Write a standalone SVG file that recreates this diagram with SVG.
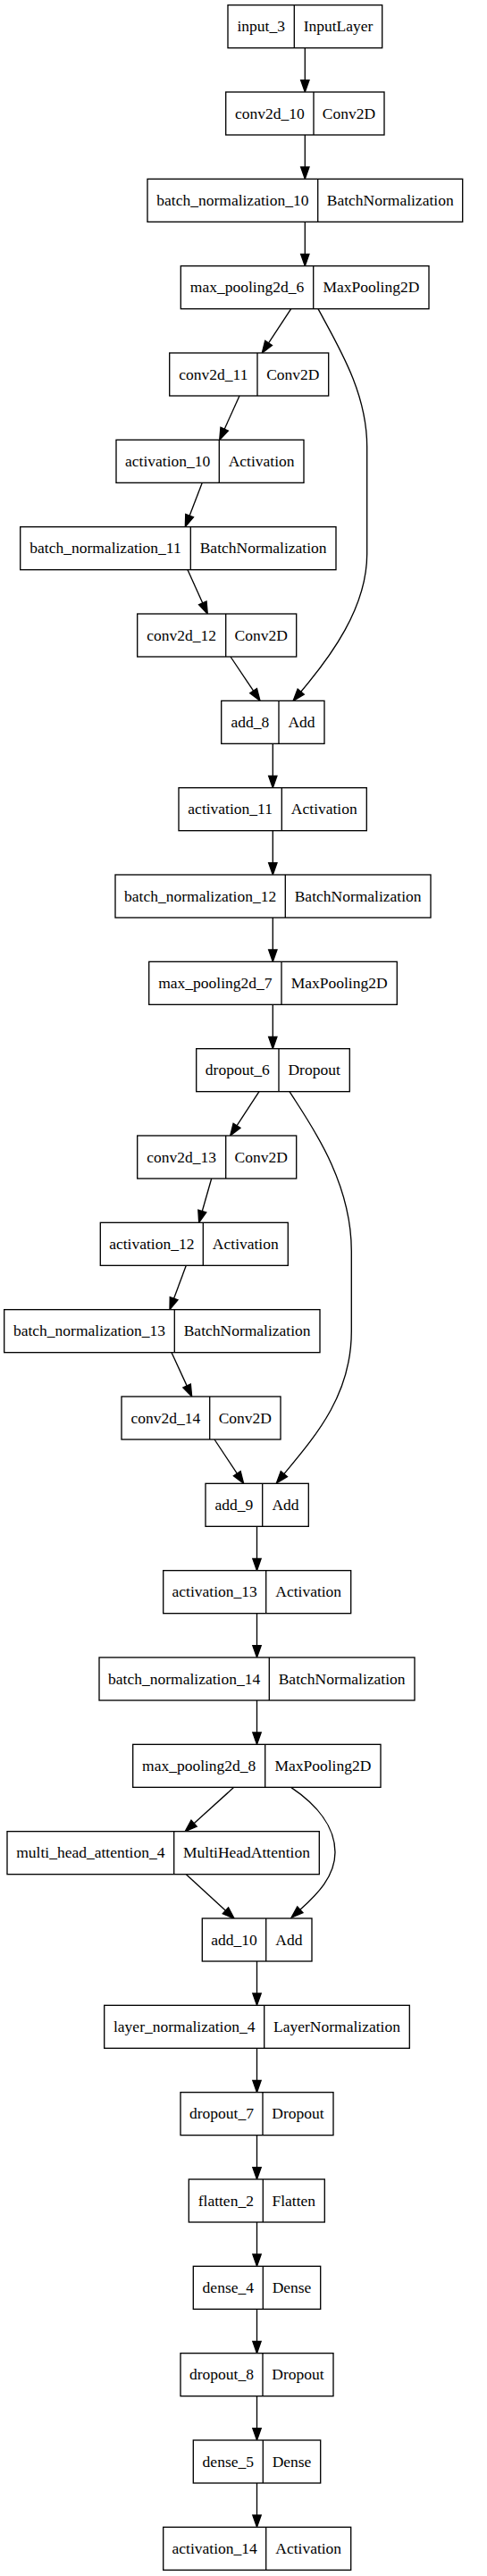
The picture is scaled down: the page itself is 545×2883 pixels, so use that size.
<svg xmlns="http://www.w3.org/2000/svg" width="545" height="2883" viewBox="0 0 545 2883">
<style>
.node rect { fill: #ffffff; stroke: #000000; stroke-width: 1.33; }
.node line { stroke: #000000; stroke-width: 1.33; }
text { font-family: "Liberation Serif", "Times New Roman", serif; font-size: 17.5px; text-anchor: middle; fill: #000000; }
.edge { fill: none; stroke: #000000; stroke-width: 1.33; marker-end: url(#arrow); }
</style>
<defs>
<marker id="arrow" markerUnits="userSpaceOnUse" markerWidth="16" markerHeight="12" refX="0" refY="4.67" orient="auto" overflow="visible">
<path d="M0,0 L13.33,4.67 L0,9.33 Z" fill="#000000" stroke="#000000" stroke-width="1.33"/>
</marker>
</defs>
<rect x="0" y="0" width="545" height="2883" fill="#ffffff"/>
<g id="connectors">
<path class="edge" d="M341.3,53.67 L341.3,89.67"/>
<path class="edge" d="M341.3,151 L341.3,187"/>
<path class="edge" d="M341.3,248.33 L341.3,284.33"/>
<path class="edge" d="M325.7,345.67 L300.6,383.9"/>
<path class="edge" d="M268,443 L251.2,480.2"/>
<path class="edge" d="M226.3,540.33 L212.1,577.2"/>
<path class="edge" d="M210,637.67 L226.8,674.9"/>
<path class="edge" d="M258,735 L283.6,773.2"/>
<path class="edge" d="M356,345.67 C380,390 410.7,440 410.7,500 L410.7,620 C410.7,680 370,735 336.7,774.2"/>
<path class="edge" d="M305.3,832.33 L305.3,868.33"/>
<path class="edge" d="M305.3,929.67 L305.3,965.67"/>
<path class="edge" d="M305.3,1027 L305.3,1063"/>
<path class="edge" d="M305.3,1124.33 L305.3,1160.33"/>
<path class="edge" d="M290,1221.67 L265,1259.8"/>
<path class="edge" d="M236.7,1319 L226.3,1355.5"/>
<path class="edge" d="M208.3,1416.33 L194.6,1453.2"/>
<path class="edge" d="M192,1513.67 L209.1,1550.9"/>
<path class="edge" d="M240,1611 L265.3,1649.2"/>
<path class="edge" d="M324,1221.67 C345,1255 393.3,1320 393.3,1400 L393.3,1490 C393.3,1560 355,1605 317.9,1649.6"/>
<path class="edge" d="M287.5,1708.33 L287.5,1744.33"/>
<path class="edge" d="M287.5,1805.67 L287.5,1841.67"/>
<path class="edge" d="M287.5,1903 L287.5,1939"/>
<path class="edge" d="M261.7,2000.33 L217.1,2040.7"/>
<path class="edge" d="M208.3,2097.67 L252.4,2138.3"/>
<path class="edge" d="M325.7,2000.33 C355,2020 375,2045 375,2073 C375,2100 355,2120 335.9,2137.3"/>
<path class="edge" d="M287.5,2195 L287.5,2231"/>
<path class="edge" d="M287.5,2292.33 L287.5,2328.33"/>
<path class="edge" d="M287.5,2389.67 L287.5,2425.67"/>
<path class="edge" d="M287.5,2487 L287.5,2523"/>
<path class="edge" d="M287.5,2584.33 L287.5,2620.33"/>
<path class="edge" d="M287.5,2681.67 L287.5,2717.67"/>
<path class="edge" d="M287.5,2779 L287.5,2815"/>
</g>
<g id="input_3" class="node"><rect x="255" y="5.67" width="172.7" height="48"/><line x1="329.3" y1="5.67" x2="329.3" y2="53.67"/><text x="292.15" y="35.27">input_3</text><text x="378.5" y="35.27">InputLayer</text></g>
<g id="conv2d_10" class="node"><rect x="252.7" y="103" width="177.3" height="48"/><line x1="351" y1="103" x2="351" y2="151"/><text x="301.85" y="132.6">conv2d_10</text><text x="390.5" y="132.6">Conv2D</text></g>
<g id="batch_normalization_10" class="node"><rect x="165" y="200.33" width="352.7" height="48"/><line x1="355.7" y1="200.33" x2="355.7" y2="248.33"/><text x="260.35" y="229.93">batch_normalization_10</text><text x="436.7" y="229.93">BatchNormalization</text></g>
<g id="max_pooling2d_6" class="node"><rect x="202.3" y="297.67" width="277.7" height="48"/><line x1="350.7" y1="297.67" x2="350.7" y2="345.67"/><text x="276.5" y="327.27">max_pooling2d_6</text><text x="415.35" y="327.27">MaxPooling2D</text></g>
<g id="conv2d_11" class="node"><rect x="189.7" y="395" width="178" height="48"/><line x1="288" y1="395" x2="288" y2="443"/><text x="238.85" y="424.6">conv2d_11</text><text x="327.85" y="424.6">Conv2D</text></g>
<g id="activation_10" class="node"><rect x="130" y="492.33" width="210" height="48"/><line x1="245.3" y1="492.33" x2="245.3" y2="540.33"/><text x="187.65" y="521.93">activation_10</text><text x="292.65" y="521.93">Activation</text></g>
<g id="batch_normalization_11" class="node"><rect x="22.7" y="589.67" width="353.3" height="48"/><line x1="213.3" y1="589.67" x2="213.3" y2="637.67"/><text x="118" y="619.27">batch_normalization_11</text><text x="294.65" y="619.27">BatchNormalization</text></g>
<g id="conv2d_12" class="node"><rect x="153.7" y="687" width="178" height="48"/><line x1="252.7" y1="687" x2="252.7" y2="735"/><text x="203.2" y="716.6">conv2d_12</text><text x="292.2" y="716.6">Conv2D</text></g>
<g id="add_8" class="node"><rect x="247.7" y="784.33" width="115.3" height="48"/><line x1="312" y1="784.33" x2="312" y2="832.33"/><text x="279.85" y="813.93">add_8</text><text x="337.5" y="813.93">Add</text></g>
<g id="activation_11" class="node"><rect x="200" y="881.67" width="210.3" height="48"/><line x1="315.3" y1="881.67" x2="315.3" y2="929.67"/><text x="257.65" y="911.27">activation_11</text><text x="362.8" y="911.27">Activation</text></g>
<g id="batch_normalization_12" class="node"><rect x="129" y="979" width="353" height="48"/><line x1="319.3" y1="979" x2="319.3" y2="1027"/><text x="224.15" y="1008.6">batch_normalization_12</text><text x="400.65" y="1008.6">BatchNormalization</text></g>
<g id="max_pooling2d_7" class="node"><rect x="166.7" y="1076.33" width="277.6" height="48"/><line x1="315" y1="1076.33" x2="315" y2="1124.33"/><text x="240.85" y="1105.93">max_pooling2d_7</text><text x="379.65" y="1105.93">MaxPooling2D</text></g>
<g id="dropout_6" class="node"><rect x="219.7" y="1173.67" width="171.6" height="48"/><line x1="312" y1="1173.67" x2="312" y2="1221.67"/><text x="265.85" y="1203.27">dropout_6</text><text x="351.65" y="1203.27">Dropout</text></g>
<g id="conv2d_13" class="node"><rect x="153.7" y="1271" width="178" height="48"/><line x1="252.7" y1="1271" x2="252.7" y2="1319"/><text x="203.2" y="1300.6">conv2d_13</text><text x="292.2" y="1300.6">Conv2D</text></g>
<g id="activation_12" class="node"><rect x="112.3" y="1368.33" width="210" height="48"/><line x1="227.3" y1="1368.33" x2="227.3" y2="1416.33"/><text x="169.8" y="1397.93">activation_12</text><text x="274.8" y="1397.93">Activation</text></g>
<g id="batch_normalization_13" class="node"><rect x="4.7" y="1465.67" width="353.3" height="48"/><line x1="195.3" y1="1465.67" x2="195.3" y2="1513.67"/><text x="100" y="1495.27">batch_normalization_13</text><text x="276.65" y="1495.27">BatchNormalization</text></g>
<g id="conv2d_14" class="node"><rect x="136" y="1563" width="178" height="48"/><line x1="234.7" y1="1563" x2="234.7" y2="1611"/><text x="185.35" y="1592.6">conv2d_14</text><text x="274.35" y="1592.6">Conv2D</text></g>
<g id="add_9" class="node"><rect x="230" y="1660.33" width="115.3" height="48"/><line x1="293.7" y1="1660.33" x2="293.7" y2="1708.33"/><text x="261.85" y="1689.93">add_9</text><text x="319.5" y="1689.93">Add</text></g>
<g id="activation_13" class="node"><rect x="182.7" y="1757.67" width="210" height="48"/><line x1="297.7" y1="1757.67" x2="297.7" y2="1805.67"/><text x="240.2" y="1787.27">activation_13</text><text x="345.2" y="1787.27">Activation</text></g>
<g id="batch_normalization_14" class="node"><rect x="111" y="1855" width="353" height="48"/><line x1="301.3" y1="1855" x2="301.3" y2="1903"/><text x="206.15" y="1884.6">batch_normalization_14</text><text x="382.65" y="1884.6">BatchNormalization</text></g>
<g id="max_pooling2d_8" class="node"><rect x="148.7" y="1952.33" width="277.3" height="48"/><line x1="296.7" y1="1952.33" x2="296.7" y2="2000.33"/><text x="222.7" y="1981.93">max_pooling2d_8</text><text x="361.35" y="1981.93">MaxPooling2D</text></g>
<g id="multi_head_attention_4" class="node"><rect x="8" y="2049.67" width="349.3" height="48"/><line x1="194.7" y1="2049.67" x2="194.7" y2="2097.67"/><text x="101.35" y="2079.27">multi_head_attention_4</text><text x="276" y="2079.27">MultiHeadAttention</text></g>
<g id="add_10" class="node"><rect x="226.3" y="2147" width="122.7" height="48"/><line x1="297.7" y1="2147" x2="297.7" y2="2195"/><text x="262" y="2176.6">add_10</text><text x="323.35" y="2176.6">Add</text></g>
<g id="layer_normalization_4" class="node"><rect x="116.7" y="2244.33" width="341.6" height="48"/><line x1="295.7" y1="2244.33" x2="295.7" y2="2292.33"/><text x="206.2" y="2273.93">layer_normalization_4</text><text x="377" y="2273.93">LayerNormalization</text></g>
<g id="dropout_7" class="node"><rect x="202" y="2341.67" width="171" height="48"/><line x1="294" y1="2341.67" x2="294" y2="2389.67"/><text x="248" y="2371.27">dropout_7</text><text x="333.5" y="2371.27">Dropout</text></g>
<g id="flatten_2" class="node"><rect x="211.3" y="2439" width="152" height="48"/><line x1="294.3" y1="2439" x2="294.3" y2="2487"/><text x="252.8" y="2468.6">flatten_2</text><text x="328.8" y="2468.6">Flatten</text></g>
<g id="dense_4" class="node"><rect x="216.3" y="2536.33" width="142.4" height="48"/><line x1="294.3" y1="2536.33" x2="294.3" y2="2584.33"/><text x="255.3" y="2565.93">dense_4</text><text x="326.5" y="2565.93">Dense</text></g>
<g id="dropout_8" class="node"><rect x="202" y="2633.67" width="171" height="48"/><line x1="294" y1="2633.67" x2="294" y2="2681.67"/><text x="248" y="2663.27">dropout_8</text><text x="333.5" y="2663.27">Dropout</text></g>
<g id="dense_5" class="node"><rect x="216.3" y="2731" width="142.4" height="48"/><line x1="294.3" y1="2731" x2="294.3" y2="2779"/><text x="255.3" y="2760.6">dense_5</text><text x="326.5" y="2760.6">Dense</text></g>
<g id="activation_14" class="node"><rect x="182.7" y="2828.33" width="210" height="48"/><line x1="297.7" y1="2828.33" x2="297.7" y2="2876.33"/><text x="240.2" y="2857.93">activation_14</text><text x="345.2" y="2857.93">Activation</text></g>
</svg>
